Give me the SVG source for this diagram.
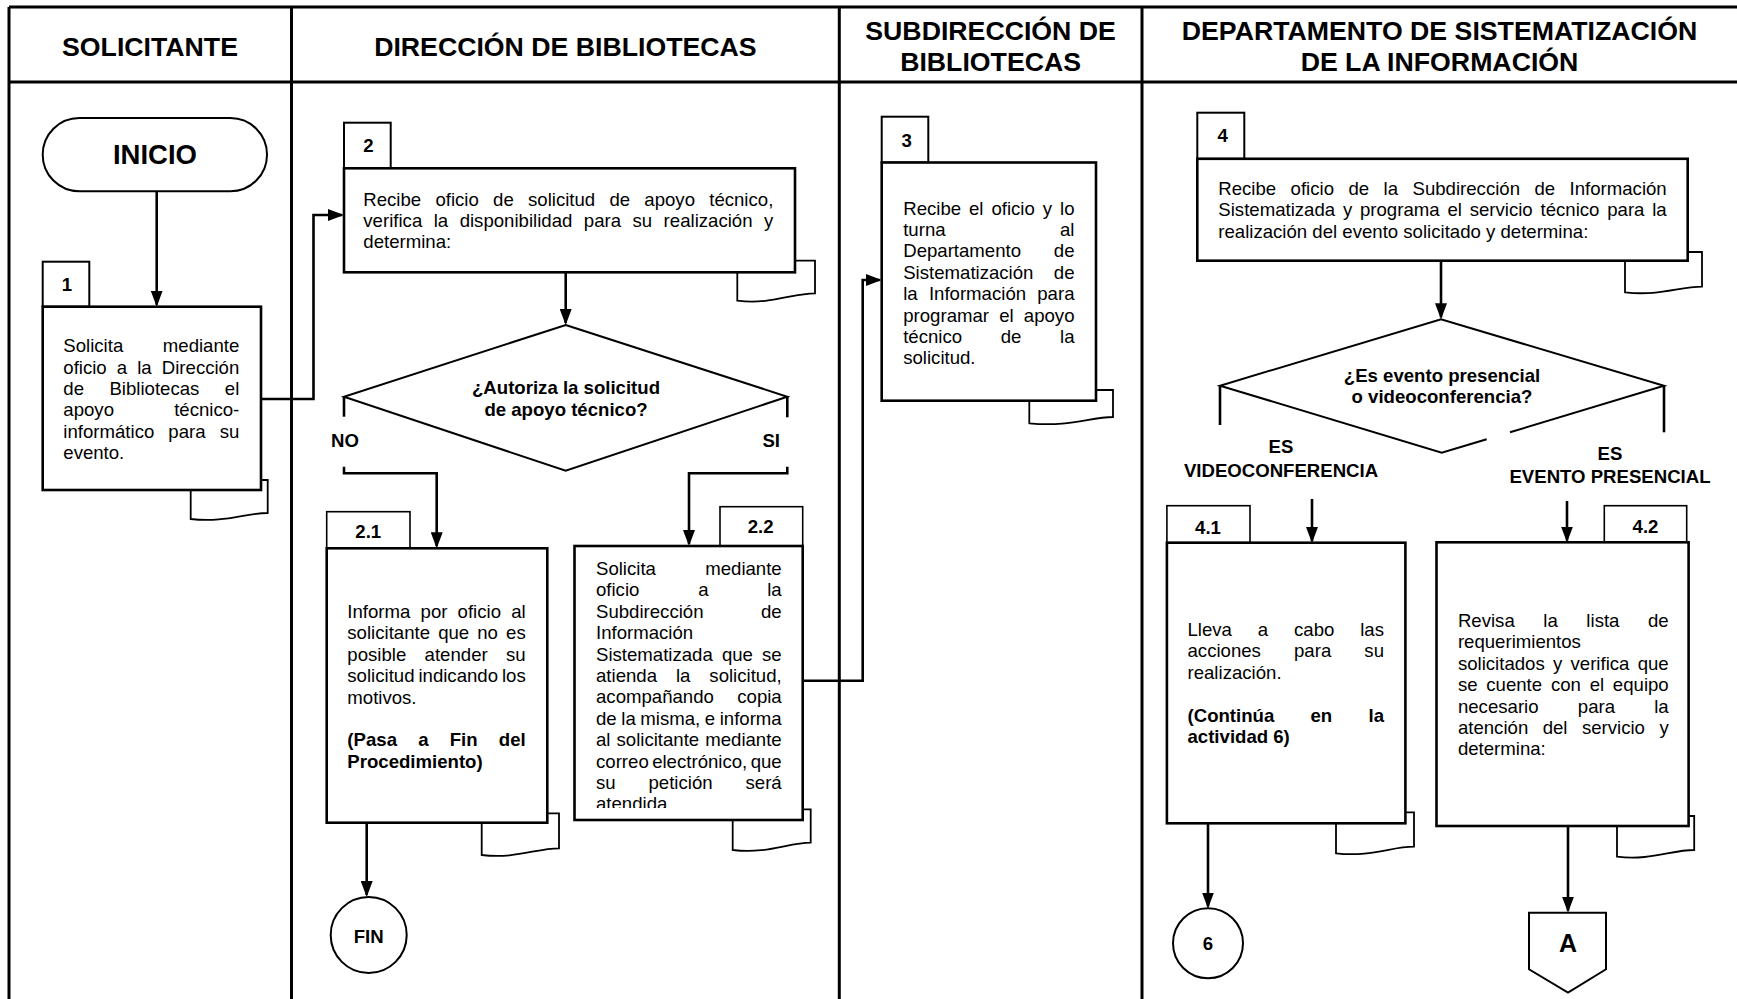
<svg xmlns="http://www.w3.org/2000/svg" width="1737" height="999" viewBox="0 0 1737 999">
<style>
.frame{fill:none;stroke:#000;stroke-width:3}
.box{fill:#fff;stroke:#000;stroke-width:2.6}
.tab{fill:#fff;stroke:#000;stroke-width:2}
.curl{fill:#fff;stroke:#000;stroke-width:1.8}
.conn{fill:none;stroke:#000;stroke-width:2.6}
.shape{fill:#fff;stroke:#000;stroke-width:2}
text{font-family:"Liberation Sans",Arial,sans-serif;fill:#000}
.t{font-size:18.6px}
.b{font-size:18.6px;font-weight:bold}
.c{text-anchor:middle}
.h{font-size:26.7px;font-weight:bold;text-anchor:middle}
</style>
<defs>
<marker id="arr" markerUnits="userSpaceOnUse" markerWidth="16" markerHeight="12" viewBox="0 0 16 12" refX="14" refY="6" orient="auto">
<path d="M0,0 L16,6 L0,12 Z" fill="#000"/>
</marker>
<clipPath id="clip22"><rect x="574" y="546" width="230" height="262"/></clipPath>
</defs>
<rect width="1737" height="999" fill="#fff"/>

<g id="frame">
<line class="frame" x1="9" y1="7" x2="1737" y2="7"/>
<line class="frame" x1="9" y1="82" x2="1737" y2="82"/>
<line class="frame" x1="9" y1="7" x2="9" y2="999"/>
<line class="frame" x1="291.5" y1="7" x2="291.5" y2="999"/>
<line class="frame" x1="839.3" y1="7" x2="839.3" y2="999"/>
<line class="frame" x1="1142" y1="7" x2="1142" y2="999"/>
<text class="h" x="150" y="56">SOLICITANTE</text>
<text class="h" x="565.4" y="56">DIRECCIÓN DE BIBLIOTECAS</text>
<text class="h" x="990.6" y="40">SUBDIRECCIÓN DE</text>
<text class="h" x="990.6" y="71">BIBLIOTECAS</text>
<text class="h" x="1439.5" y="40">DEPARTAMENTO DE SISTEMATIZACIÓN</text>
<text class="h" x="1439.5" y="71">DE LA INFORMACIÓN</text>
</g>

<g id="connectors">
<path class="conn" d="M156.7,191.3 V304.7" marker-end="url(#arr)"/>
<path class="conn" d="M261,399 H313.5 V215 H342" marker-end="url(#arr)"/>
<path class="conn" d="M565.7,272.3 V323" marker-end="url(#arr)"/>
<path class="conn" d="M344,396.7 V416.7"/>
<path class="conn" d="M787.3,396.7 V417.3"/>
<path class="conn" d="M344,466.7 V473.3 H436.7 V546.3" marker-end="url(#arr)"/>
<path class="conn" d="M787.3,466.7 V473.3 H689 V544" marker-end="url(#arr)"/>
<path class="conn" d="M802.7,680.7 H862.7 V280 H879.7" marker-end="url(#arr)"/>
<path class="conn" d="M366.7,822.7 V895" marker-end="url(#arr)"/>
<path class="conn" d="M1441,260.7 V317.3" marker-end="url(#arr)"/>
<path class="conn" d="M1220,385.7 V425"/>
<path class="conn" d="M1664,385.7 V432.3"/>
<path class="conn" d="M1312,499 V541" marker-end="url(#arr)"/>
<path class="conn" d="M1567,501 V540.5" marker-end="url(#arr)"/>
<path class="conn" d="M1208,823.3 V906.5" marker-end="url(#arr)"/>
<path class="conn" d="M1568,826 V910.7" marker-end="url(#arr)"/>
</g>

<g id="inicio">
<rect class="shape" x="42.7" y="118" width="224.3" height="73.3" rx="36.6"/>
<text class="h" x="155" y="164" style="font-size:27.5px">INICIO</text>
</g>

<g id="act1">
<path class="curl" d="M261,480 H267.7 V513 C245,513 225,523 190.7,519 V490"/>
<rect class="tab" x="42.7" y="261.7" width="46.6" height="45"/>
<rect class="box" x="42.7" y="306.7" width="218.3" height="183.3"/>
<text class="b c" x="67" y="291">1</text>
<text class="t" x="63.3" y="352.2" word-spacing="34.4" textLength="176" lengthAdjust="spacing">Solicita mediante</text>
<text class="t" x="63.3" y="373.6" word-spacing="4.93" textLength="176" lengthAdjust="spacing">oficio a la Dirección</text>
<text class="t" x="63.3" y="395" word-spacing="20.3" textLength="176" lengthAdjust="spacing">de Bibliotecas el</text>
<text class="t" x="63.3" y="416.4" word-spacing="55" textLength="176" lengthAdjust="spacing">apoyo técnico-</text>
<text class="t" x="63.3" y="437.8" word-spacing="8.9" textLength="176" lengthAdjust="spacing">informático para su</text>
<text class="t" x="63.3" y="459.2">evento.</text>
</g>

<g id="act2">
<path class="curl" d="M795,260.7 H815 V293.3 C792,293.3 772,304.7 737.3,300.7 V272.3"/>
<rect class="tab" x="344" y="122.7" width="46.7" height="45.6"/>
<rect class="box" x="344" y="168.3" width="451" height="104"/>
<text class="b c" x="368.3" y="151.7">2</text>
<text class="t" x="363.3" y="205.5" word-spacing="9.07" textLength="410" lengthAdjust="spacing">Recibe oficio de solicitud de apoyo técnico,</text>
<text class="t" x="363.3" y="226.9" word-spacing="6.3" textLength="410" lengthAdjust="spacing">verifica la disponibilidad para su realización y</text>
<text class="t" x="363.3" y="248.3">determina:</text>
</g>

<g id="dec2">
<polygon class="shape" points="565.7,325 787.3,396.7 565.7,470.7 344,396.7"/>
<text class="b c" x="566" y="394">¿Autoriza la solicitud</text>
<text class="b c" x="566" y="416">de apoyo técnico?</text>
<text class="b" x="331" y="447">NO</text>
<text class="b" x="780" y="447" text-anchor="end">SI</text>
</g>

<g id="act2-1">
<path class="curl" d="M547.3,813.3 H559 V848.3 C536,848.3 516,859 481.7,855 V822.7"/>
<rect class="tab" x="326.7" y="511.7" width="83.3" height="36.6" style="stroke-width:1.6"/>
<rect class="box" x="326.7" y="548.3" width="220.6" height="274.4"/>
<text class="b c" x="368.3" y="538.3">2.1</text>
<text class="t" x="347.3" y="618" word-spacing="5.03" textLength="178.4" lengthAdjust="spacing">Informa por oficio al</text>
<text class="t" x="347.3" y="639.4" word-spacing="2.93" textLength="178.4" lengthAdjust="spacing">solicitante que no es</text>
<text class="t" x="347.3" y="660.8" word-spacing="13.2" textLength="178.4" lengthAdjust="spacing">posible atender su</text>
<text class="t" x="347.3" y="682.2" word-spacing="-1.25" textLength="178.4" lengthAdjust="spacing">solicitud indicando los</text>
<text class="t" x="347.3" y="703.6">motivos.</text>
<text class="b" x="347.3" y="746.4" word-spacing="16" textLength="178.4" lengthAdjust="spacing">(Pasa a Fin del</text>
<text class="b" x="347.3" y="767.8">Procedimiento)</text>
</g>

<g id="fin">
<circle class="shape" cx="368.7" cy="935" r="38"/>
<text class="b c" x="368.7" y="943">FIN</text>
</g>

<g id="act2-2">
<path class="curl" d="M802.7,809.3 H810.7 V842.7 C788,842.7 768,854 732.7,850 V820"/>
<rect class="tab" x="720" y="506.7" width="82.7" height="39.3" style="stroke-width:1.6"/>
<rect class="box" x="574.5" y="546" width="228.2" height="274"/>
<text class="b c" x="760.7" y="533.3">2.2</text>
<g clip-path="url(#clip22)">
<text class="t" x="596" y="575" word-spacing="44.1" textLength="185.7" lengthAdjust="spacing">Solicita mediante</text>
<text class="t" x="596" y="596.4" word-spacing="53.6" textLength="185.7" lengthAdjust="spacing">oficio a la</text>
<text class="t" x="596" y="617.8" word-spacing="52.3" textLength="185.7" lengthAdjust="spacing">Subdirección de</text>
<text class="t" x="596" y="639.2">Información</text>
<text class="t" x="596" y="660.6" word-spacing="3.95" textLength="185.7" lengthAdjust="spacing">Sistematizada que se</text>
<text class="t" x="596" y="682" word-spacing="13.75" textLength="185.7" lengthAdjust="spacing">atienda la solicitud,</text>
<text class="t" x="596" y="703.4" word-spacing="18.2" textLength="185.7" lengthAdjust="spacing">acompañando copia</text>
<text class="t" x="596" y="724.8" word-spacing="-0.6" textLength="185.7" lengthAdjust="spacing">de la misma, e informa</text>
<text class="t" x="596" y="746.2" word-spacing="0.85" textLength="185.7" lengthAdjust="spacing">al solicitante mediante</text>
<text class="t" x="596" y="767.6" word-spacing="-1.75" textLength="185.7" lengthAdjust="spacing">correo electrónico, que</text>
<text class="t" x="596" y="789" word-spacing="27.7" textLength="185.7" lengthAdjust="spacing">su petición será</text>
<text class="t" x="596" y="810.4">atendida.</text>
</g>
</g>

<g id="act3">
<path class="curl" d="M1096,390 H1113 V417 C1090,417 1070,427.3 1029.3,423.3 V400.7"/>
<rect class="tab" x="881.7" y="116.7" width="46.6" height="45.8"/>
<rect class="box" x="881.7" y="162.5" width="214.3" height="238.2"/>
<text class="b c" x="906.7" y="146.7">3</text>
<text class="t" x="903.2" y="214.5" word-spacing="2.78" textLength="171.3" lengthAdjust="spacing">Recibe el oficio y lo</text>
<text class="t" x="903.2" y="235.9" word-spacing="109.3" textLength="171.3" lengthAdjust="spacing">turna al</text>
<text class="t" x="903.2" y="257.3" word-spacing="27.6" textLength="171.3" lengthAdjust="spacing">Departamento de</text>
<text class="t" x="903.2" y="278.7" word-spacing="15.2" textLength="171.3" lengthAdjust="spacing">Sistematización de</text>
<text class="t" x="903.2" y="300.1" word-spacing="6.05" textLength="171.3" lengthAdjust="spacing">la Información para</text>
<text class="t" x="903.2" y="321.5" word-spacing="5" textLength="171.3" lengthAdjust="spacing">programar el apoyo</text>
<text class="t" x="903.2" y="342.9" word-spacing="33.45" textLength="171.3" lengthAdjust="spacing">técnico de la</text>
<text class="t" x="903.2" y="364.3">solicitud.</text>
</g>

<g id="act4">
<path class="curl" d="M1687.7,252 H1702 V286.7 C1679,286.7 1659,296.3 1625,292.3 V260.7"/>
<rect class="tab" x="1197.3" y="112.7" width="47" height="46.1"/>
<rect class="box" x="1197.3" y="158.8" width="490.4" height="101.9"/>
<text class="b c" x="1222.7" y="141.7">4</text>
<text class="t" x="1218.3" y="195" word-spacing="9.27" textLength="448.4" lengthAdjust="spacing">Recibe oficio de la Subdirección de Información</text>
<text class="t" x="1218.3" y="216.4" word-spacing="2.63" textLength="448.4" lengthAdjust="spacing">Sistematizada y programa el servicio técnico para la</text>
<text class="t" x="1218.3" y="237.8">realización del evento solicitado y determina:</text>
</g>

<g id="dec4">
<path class="shape" d="M1486.7,439.3 L1441.7,452.7 L1220,385.7 L1441,319.3 L1664,385.7 L1510,432.3"/>
<text class="b c" x="1442" y="381.7">¿Es evento presencial</text>
<text class="b c" x="1442" y="403.3">o videoconferencia?</text>
<text class="b c" x="1281" y="453">ES</text>
<text class="b c" x="1281" y="476.7">VIDEOCONFERENCIA</text>
<text class="b c" x="1610" y="460">ES</text>
<text class="b c" x="1610" y="482.7">EVENTO PRESENCIAL</text>
</g>

<g id="act4-1">
<path class="curl" d="M1405.4,812.3 H1414 V846.7 C1391,846.7 1371,857.3 1336,853.3 V823.3"/>
<rect class="tab" x="1166.9" y="505.7" width="83.1" height="37" style="stroke-width:1.6"/>
<rect class="box" x="1166.9" y="542.7" width="238.5" height="280.6"/>
<text class="b c" x="1208" y="534.3">4.1</text>
<text class="t" x="1187.5" y="636" word-spacing="20.7" textLength="196.5" lengthAdjust="spacing">Lleva a cabo las</text>
<text class="t" x="1187.5" y="657.4" word-spacing="27.95" textLength="196.5" lengthAdjust="spacing">acciones para su</text>
<text class="t" x="1187.5" y="678.8">realización.</text>
<text class="b" x="1187.5" y="721.6" word-spacing="31.1" textLength="196.5" lengthAdjust="spacing">(Continúa en la</text>
<text class="b" x="1187.5" y="743">actividad 6)</text>
</g>

<g id="conn6">
<circle class="shape" cx="1208" cy="943.3" r="35"/>
<text class="b c" x="1208" y="950">6</text>
</g>

<g id="act4-2">
<path class="curl" d="M1688.6,816 H1694.2 V850 C1671,850 1651,860.7 1617,856.7 V826"/>
<rect class="tab" x="1604.3" y="505.7" width="82.4" height="36.6" style="stroke-width:1.6"/>
<rect class="box" x="1436.5" y="542.3" width="252.1" height="283.7"/>
<text class="b c" x="1645.5" y="533">4.2</text>
<text class="t" x="1457.9" y="627" word-spacing="23.4" textLength="210.8" lengthAdjust="spacing">Revisa la lista de</text>
<text class="t" x="1457.9" y="648.4">requerimientos</text>
<text class="t" x="1457.9" y="669.8" word-spacing="3.07" textLength="210.8" lengthAdjust="spacing">solicitados y verifica que</text>
<text class="t" x="1457.9" y="691.2" word-spacing="3.6" textLength="210.8" lengthAdjust="spacing">se cuente con el equipo</text>
<text class="t" x="1457.9" y="712.6" word-spacing="34" textLength="210.8" lengthAdjust="spacing">necesario para la</text>
<text class="t" x="1457.9" y="734" word-spacing="9.27" textLength="210.8" lengthAdjust="spacing">atención del servicio y</text>
<text class="t" x="1457.9" y="755.4">determina:</text>
</g>

<g id="connA">
<polygon class="shape" points="1529,912.7 1606,912.7 1606,969.3 1568,992.7 1529,969.3"/>
<text x="1568" y="952" text-anchor="middle" style="font-size:25px;font-weight:bold">A</text>
</g>
</svg>
